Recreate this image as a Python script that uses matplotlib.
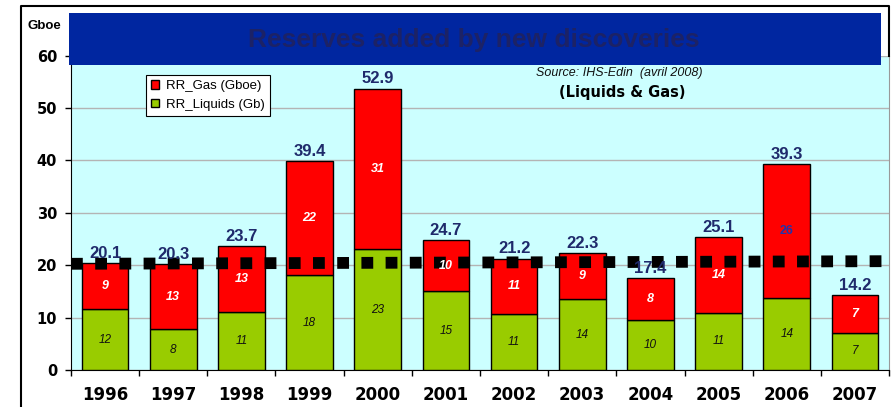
import matplotlib
matplotlib.use('Agg')
import matplotlib.pyplot as plt
from matplotlib.patches import Rectangle
from matplotlib.lines import Line2D
import numpy as np

# ---- data ----
years = ['1996', '1997', '1998', '1999', '2000', '2001', '2002', '2003',
         '2004', '2005', '2006', '2007']
liquids = [11.6, 7.8, 11.2, 18.2, 23.1, 15.1, 10.7, 13.5, 9.5, 11.0, 13.8, 7.2]
gas = [8.8, 12.5, 12.5, 21.6, 30.6, 9.7, 10.6, 8.8, 8.0, 14.4, 25.5, 7.1]
totals = [20.1, 20.3, 23.7, 39.4, 52.9, 24.7, 21.2, 22.3, 17.4, 25.1, 39.3, 14.2]
liquids_labels = ['12', '8', '11', '18', '23', '15', '11', '14', '10', '11', '14', '7']
gas_labels = ['9', '13', '13', '22', '31', '10', '11', '9', '8', '14', '26', '7']
ref_line = [20.3, 20.8]
yticks = [0, 10, 20, 30, 40, 50, 60]

W, H = 893, 407
fig = plt.figure(figsize=(W / 100, H / 100), dpi=100)
fig.patch.set_facecolor('white')

def fx(px):
    return px / W

def fy(py):
    return 1 - py / H

ax_l, ax_r, ax_t, ax_b = 71, 889, 55.5, 370.3
ax = fig.add_axes([fx(ax_l), fy(ax_b), fx(ax_r - ax_l), (ax_b - ax_t) / H])
ax.set_facecolor('#CCFFFF')

def axx(px):
    return (px - ax_l) / (ax_r - ax_l)

def axy(py):
    return (ax_b - py) / (ax_b - ax_t)

x = np.arange(len(years))
bw = 0.686
red = '#FF0000'
green = '#99CC00'
ax.bar(x, liquids, bw, color=green, edgecolor='black', linewidth=1, zorder=3,
       label='RR_Liquids (Gb)')
ax.bar(x, gas, bw, bottom=liquids, color=red, edgecolor='black', linewidth=1,
       zorder=3, label='RR_Gas (Gboe)')

ax.set_xlim(-0.5, len(years) - 0.5)
ax.set_ylim(0, 60)
ax.set_yticks(yticks)
ax.yaxis.grid(True, color='#B4B4B4', linewidth=1, zorder=0)
ax.set_axisbelow(True)

# x ticks at category boundaries, labels at centres
ax.set_xticks(x)
ax.set_xticklabels(years, fontsize=12, fontweight='bold', family='DejaVu Sans')
ax.tick_params(axis='x', which='major', length=0, pad=11)
ax.set_xticks(np.arange(-0.5, len(years) - 0.4, 1), minor=True)
ax.tick_params(axis='x', which='minor', length=4, width=1, direction='out', color='black')
ax.tick_params(axis='y', length=4, width=1, direction='out', pad=6)
for lab in ax.get_yticklabels():
    lab.set_fontweight('bold')
    lab.set_fontsize(10.5)
    lab.set_family('DejaVu Sans')

ax.spines['top'].set_visible(False)
ax.spines['right'].set_color('#999999')
ax.spines['left'].set_color('black')
ax.spines['bottom'].set_color('black')

# reference dotted line
ax.plot([-0.5, len(years) - 0.5], ref_line, color='black', linewidth=8.5,
        linestyle=(0, (1.0, 1.05)), dash_capstyle='butt', solid_capstyle='butt',
        zorder=5, clip_on=False)

# segment labels
for i in range(len(years)):
    ax.text(x[i], liquids[i] / 2, liquids_labels[i], ha='center', va='center',
            fontsize=8.5, style='italic', color='#111111', zorder=6,
            family='Liberation Sans')
    if years[i] == '2006':
        ax.text(x[i], liquids[i] + gas[i] / 2, gas_labels[i], ha='center', va='center',
                fontsize=9, fontweight='bold', color='#2233AA', zorder=6,
                family='Liberation Sans')
    else:
        ax.text(x[i], liquids[i] + gas[i] / 2, gas_labels[i], ha='center', va='center',
                fontsize=9, fontweight='bold', style='italic', color='white',
                zorder=6, family='Liberation Sans')
    ax.annotate(f'{totals[i]:.1f}', (x[i], liquids[i] + gas[i]), xytext=(0, 1.5),
                textcoords='offset points', ha='center', va='bottom',
                fontsize=12, fontweight='bold', color='#1F2A6B', zorder=6,
                family='Liberation Sans')

# legend
handles, labels = ax.get_legend_handles_labels()
leg = ax.legend(handles[::-1], labels[::-1], loc='upper left',
                bbox_to_anchor=(axx(146), axy(75)),
                frameon=True, fancybox=False, edgecolor='black', framealpha=1,
                prop={'family': 'Liberation Sans', 'size': 9.5},
                handlelength=0.6, handleheight=0.6, handletextpad=0.5,
                borderpad=0.4, labelspacing=0.5, borderaxespad=0)
leg.get_frame().set_linewidth(0.8)
leg.set_zorder(7)

# source texts
ax.text(axx(619), axy(73.3), 'Source: IHS-Edin  (avril 2008)', transform=ax.transAxes,
        ha='center', va='center', fontsize=9, style='italic',
        family='Liberation Sans', color='#111111')
ax.text(axx(622.5), axy(92.5), '(Liquids & Gas)', transform=ax.transAxes,
        ha='center', va='center', fontsize=10.5, fontweight='bold',
        family='DejaVu Sans', color='black')

# title banner
banner = Rectangle((fx(69), fy(64.7)), fx(881 - 69), (64.7 - 13) / H,
                   transform=fig.transFigure, facecolor='#0026A0', edgecolor='none',
                   zorder=10)
fig.patches.append(banner)
fig.text(fx(474), fy(40), 'Reserves added by new discoveries', ha='center',
         va='center', fontsize=19, fontweight='bold', color='#1C2266',
         family='Liberation Sans', zorder=11)

# y unit label
fig.text(fx(44), fy(26), 'Gboe', ha='center', va='center', fontsize=9.5,
         fontweight='bold', family='Liberation Sans', color='black')

# outer frame (left, top, right upper part)
frame = Line2D([fx(21), fx(21), fx(889), fx(889)],
               [fy(407), fy(6), fy(6), fy(56)], transform=fig.transFigure,
               color='black', linewidth=1.5, zorder=12)
fig.lines.append(frame)

fig.savefig('out.png', dpi=100)
